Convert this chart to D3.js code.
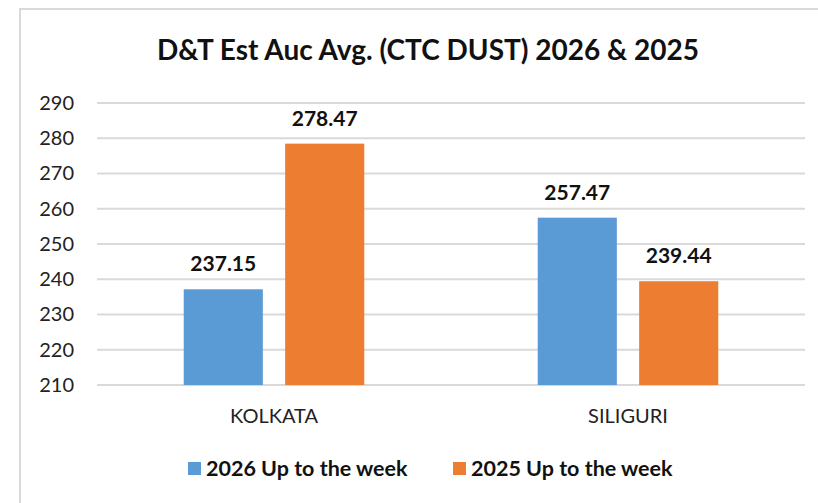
<!DOCTYPE html>
<html>
<head>
<meta charset="utf-8">
<script src="https://cdn.jsdelivr.net/npm/d3@7"></script>
<style>
body { margin: 0; background: #fff; }
text { font-family: Lato, "Open Sans", sans-serif; }
</style>
</head>
<body>
<div class="chart"></div>
<script>
var categories = ["KOLKATA", "SILIGURI"];
var seriesNames = ["2026 Up to the week", "2025 Up to the week"];
var values2026 = [237.15, 257.47];
var values2025 = [278.47, 239.44];
var yTicks = [210, 220, 230, 240, 250, 260, 270, 280, 290];
var colors = ["#5b9bd5", "#ed7d31"];

var width = 818, height = 503;
var margin = {top: 103, right: 13, bottom: 118, left: 97};

var svg = d3.select(".chart").append("svg")
	.attr("width", width).attr("height", height);

// chart frame
svg.append("rect").attr("x", 20).attr("y", 9)
	.attr("width", width + 10).attr("height", height + 10)
	.attr("fill", "#fff").attr("stroke", "#d9d9d9").attr("stroke-width", 2);

svg.append("text").attr("x", 428).attr("y", 60)
	.attr("text-anchor", "middle").attr("font-size", 28).attr("font-weight", "bold")
	.attr("fill", "#111").text("D&T Est Auc Avg. (CTC DUST) 2026 & 2025");

var x0 = d3.scaleBand().domain(categories)
	.range([margin.left, width - margin.right]);
var x1 = d3.scaleBand().domain([0, 1])
	.range([0, x0.bandwidth() * 0.51]).paddingInner(0.22);
var y = d3.scaleLinear().domain([210, 290])
	.range([height - margin.bottom, margin.top]);

// gridlines
svg.append("g").selectAll("line").data(yTicks).enter().append("line")
	.attr("x1", margin.left).attr("x2", width - margin.right)
	.attr("y1", function(d) { return y(d); }).attr("y2", function(d) { return y(d); })
	.attr("stroke", "#d9d9d9").attr("stroke-width", 2);

var yAxis = svg.append("g").attr("transform", "translate(" + (margin.left - 23) + ",0)")
	.call(d3.axisLeft(y).tickValues(yTicks).tickSize(0).tickPadding(0));
yAxis.select(".domain").remove();
yAxis.selectAll("text").attr("font-size", 20).attr("fill", "#222")
	.style("font-family", "Lato, sans-serif");

var rows = categories.map(function(c, i) { return [values2026[i], values2025[i]]; });
var offset = x0.bandwidth() * 0.245;

var groups = svg.append("g").selectAll("g").data(rows).enter().append("g")
	.attr("transform", function(d, i) { return "translate(" + (x0(categories[i]) + offset) + ",0)"; });

groups.selectAll("rect").data(function(d) { return d; }).enter().append("rect")
	.attr("x", function(d, i) { return x1(i); })
	.attr("width", x1.bandwidth())
	.attr("y", function(d) { return y(d); })
	.attr("height", function(d) { return y(210) - y(d); })
	.attr("fill", function(d, i) { return colors[i]; });

groups.selectAll("text").data(function(d) { return d; }).enter().append("text")
	.attr("x", function(d, i) { return x1(i) + x1.bandwidth() / 2; })
	.attr("y", function(d) { return y(d) - 18; })
	.attr("text-anchor", "middle").attr("font-size", 21).attr("font-weight", "bold")
	.attr("fill", "#111").text(function(d) { return d.toFixed(2); });

var xAxis = svg.append("g").attr("transform", "translate(0," + (height - margin.bottom) + ")")
	.call(d3.axisBottom(x0).tickSize(0).tickPadding(24));
xAxis.select(".domain").remove();
xAxis.selectAll("text").attr("font-size", 20).attr("fill", "#222")
	.style("font-family", "Lato, sans-serif");

// legend
var legendX = [188, 453];
var legend = svg.append("g").selectAll("g").data(seriesNames).enter().append("g")
	.attr("transform", function(d, i) { return "translate(" + legendX[i] + ",462)"; });
legend.append("rect").attr("width", 13).attr("height", 13)
	.attr("fill", function(d, i) { return colors[i]; });
legend.append("text").attr("x", 18).attr("y", 14)
	.attr("font-size", 21.5).attr("font-weight", "bold").attr("fill", "#111")
	.text(function(d) { return d; });
</script>
</body>
</html>
